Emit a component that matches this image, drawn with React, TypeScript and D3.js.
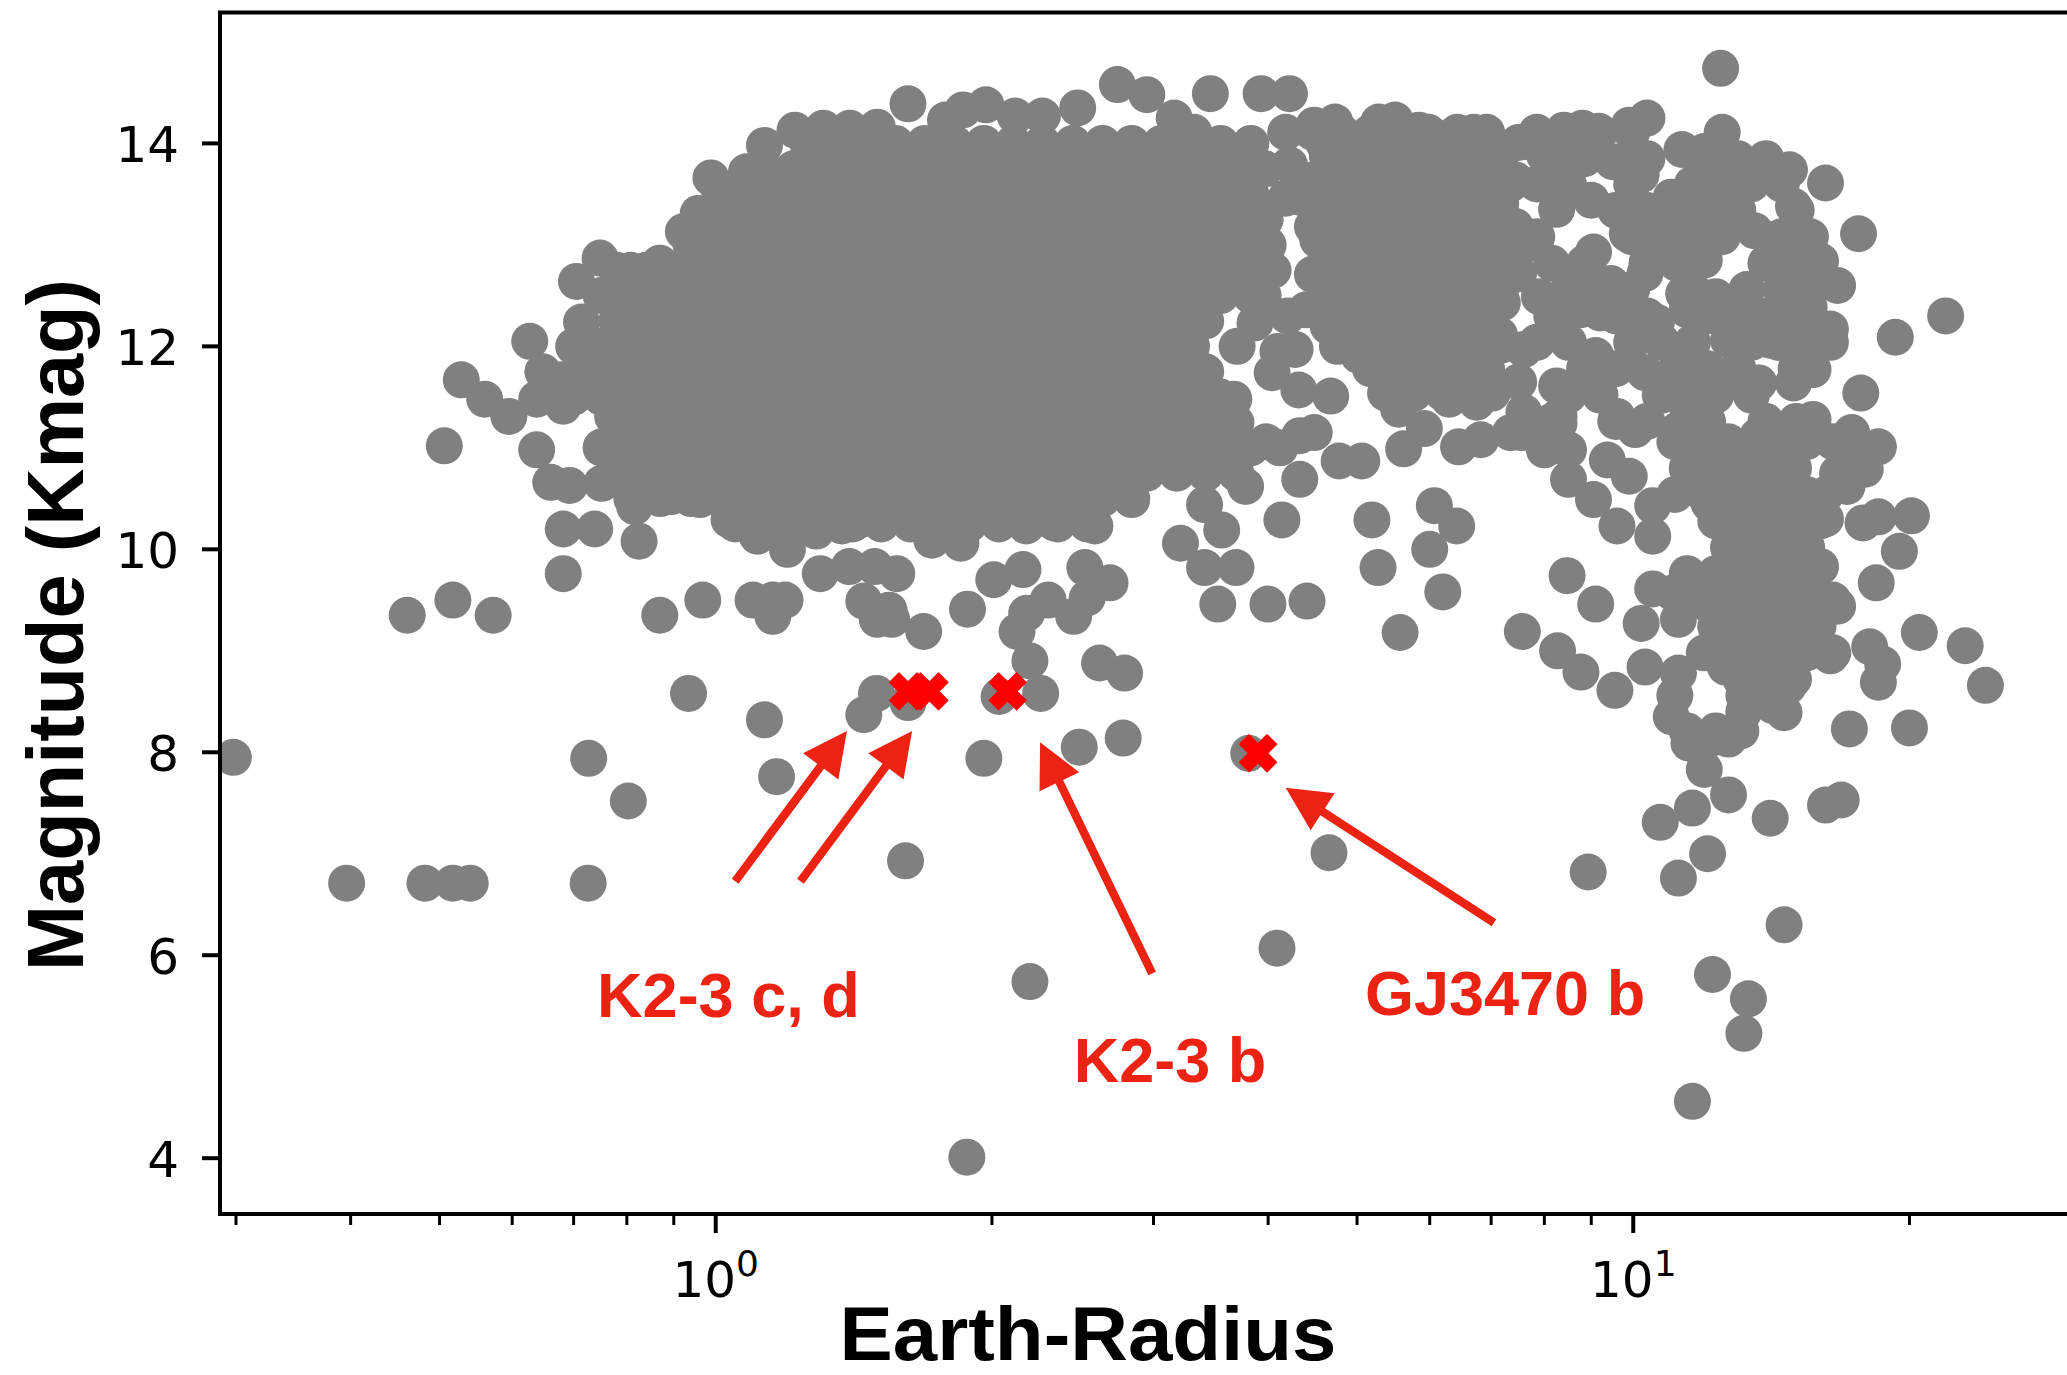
import React from "react";
import * as d3 from "d3";

// ---------------- DATA (Earth-radius, K magnitude) ----------------
const coreRows: { kmag: number; radii: number[] }[] = [
  { kmag: 14.0, radii: [1.26, 1.36, 1.46, 1.57, 1.69, 1.82, 1.96, 2.11, 2.27, 2.45, 2.64, 2.84, 3.06, 3.3, 3.55, 3.83] },
  { kmag: 13.75, radii: [1.13, 1.215, 1.31, 1.41, 1.515, 1.63, 1.755, 1.89, 2.035, 2.19, 2.36, 2.54, 2.74, 2.95, 3.18, 3.42, 3.69, 3.97] },
  { kmag: 13.5, radii: [1.01, 1.09, 1.17, 1.26, 1.36, 1.46, 1.57, 1.69, 1.82, 1.96, 2.11, 2.27, 2.45, 2.64, 2.84, 3.06, 3.3, 3.55, 3.83] },
  { kmag: 13.25, radii: [0.975, 1.05, 1.13, 1.215, 1.31, 1.41, 1.515, 1.63, 1.755, 1.89, 2.035, 2.19, 2.36, 2.54, 2.74, 2.95, 3.18, 3.42, 3.69, 3.97] },
  { kmag: 13.0, radii: [0.94, 1.01, 1.09, 1.17, 1.26, 1.36, 1.46, 1.57, 1.69, 1.82, 1.96, 2.11, 2.27, 2.45, 2.64, 2.84, 3.06, 3.3, 3.55, 3.83] },
  { kmag: 12.75, radii: [0.78, 0.84, 0.905, 0.975, 1.05, 1.13, 1.215, 1.31, 1.41, 1.515, 1.63, 1.755, 1.89, 2.035, 2.19, 2.36, 2.54, 2.74, 2.95, 3.18, 3.42, 3.69, 3.97] },
  { kmag: 12.5, radii: [0.75, 0.81, 0.87, 0.94, 1.01, 1.09, 1.17, 1.26, 1.36, 1.46, 1.57, 1.69, 1.82, 1.96, 2.11, 2.27, 2.45, 2.64, 2.84, 3.06, 3.3, 3.55, 3.83] },
  { kmag: 12.25, radii: [0.78, 0.84, 0.905, 0.975, 1.05, 1.13, 1.215, 1.31, 1.41, 1.515, 1.63, 1.755, 1.89, 2.035, 2.19, 2.36, 2.54, 2.74, 2.95, 3.18, 3.42] },
  { kmag: 12.0, radii: [0.7, 0.75, 0.81, 0.87, 0.94, 1.01, 1.09, 1.17, 1.26, 1.36, 1.46, 1.57, 1.69, 1.82, 1.96, 2.11, 2.27, 2.45, 2.64, 2.84, 3.06, 3.3] },
  { kmag: 11.75, radii: [0.725, 0.78, 0.84, 0.905, 0.975, 1.05, 1.13, 1.215, 1.31, 1.41, 1.515, 1.63, 1.755, 1.89, 2.035, 2.19, 2.36, 2.54, 2.74, 2.95, 3.18, 3.42] },
  { kmag: 11.5, radii: [0.7, 0.75, 0.81, 0.87, 0.94, 1.01, 1.09, 1.17, 1.26, 1.36, 1.46, 1.57, 1.69, 1.82, 1.96, 2.11, 2.27, 2.45, 2.64, 2.84, 3.06, 3.3, 3.55] },
  { kmag: 11.25, radii: [0.78, 0.84, 0.905, 0.975, 1.05, 1.13, 1.215, 1.31, 1.41, 1.515, 1.63, 1.755, 1.89, 2.035, 2.19, 2.36, 2.54, 2.74, 2.95, 3.18, 3.42, 3.69] },
  { kmag: 11.0, radii: [0.75, 0.81, 0.87, 0.94, 1.01, 1.09, 1.17, 1.26, 1.36, 1.46, 1.57, 1.69, 1.82, 1.96, 2.11, 2.27, 2.45, 2.64, 2.84, 3.06, 3.3, 3.55, 3.83, 4.12] },
  { kmag: 10.75, radii: [0.78, 0.84, 0.905, 0.975, 1.05, 1.13, 1.215, 1.31, 1.41, 1.515, 1.63, 1.755, 1.89, 2.035, 2.19, 2.36, 2.54, 2.74, 2.95, 3.18, 3.42, 3.69] },
  { kmag: 10.5, radii: [0.81, 0.87, 0.94, 1.01, 1.09, 1.17, 1.26, 1.36, 1.46, 1.57, 1.69, 1.82, 1.96, 2.11, 2.27, 2.45, 2.64, 2.84] },
  { kmag: 10.25, radii: [1.05, 1.13, 1.215, 1.31, 1.41, 1.515, 1.63, 1.755, 1.89, 2.035, 2.19, 2.36, 2.54] },
];

const coreEdge: [number, number][] = [
  [1.62, 14.39], [1.22, 14.13], [1.31, 14.15], [1.4, 14.15], [1.5, 14.16], [1.78, 14.23], [0.988, 13.66], [1.08, 13.72],
  [1.13, 13.98], [0.957, 13.31], [0.922, 13.13], [0.748, 12.87], [0.705, 12.64], [0.869, 12.82], [0.808, 12.75], [0.944, 12.75],
  [0.714, 12.24], [0.714, 12.05], [0.737, 11.74], [0.772, 11.31], [0.997, 11.34], [0.751, 10.65], [0.751, 11.01], [0.816, 10.42],
  [0.894, 10.52], [0.961, 10.49], [1.034, 10.29], [1.11, 10.13], [1.197, 10.0], [1.287, 10.18], [1.372, 10.23], [1.436, 10.29],
  [1.6, 10.39], [1.72, 10.09], [1.69, 10.85],
  [1.86, 14.33], [1.97, 14.38], [2.12, 14.27], [2.27, 14.27], [2.48, 14.35], [2.74, 14.58], [2.95, 14.48], [3.16, 14.25],
  [3.46, 14.49], [3.93, 14.49], [4.22, 14.49], [3.32, 14.11], [4.18, 14.11], [4.22, 13.79], [4.18, 13.46], [4.0, 13.0],
  [3.87, 12.23], [3.7, 12.0], [4.04, 11.74], [4.32, 11.57], [3.67, 11.48], [3.98, 11.06], [4.33, 11.12], [4.49, 11.15],
  [4.78, 10.87], [5.06, 10.87], [5.62, 10.99], [4.33, 10.69], [3.78, 10.62], [4.14, 10.29], [3.41, 10.44], [3.56, 10.19],
  [3.21, 10.06], [2.84, 10.49], [2.59, 10.23], [2.34, 10.26], [2.18, 10.23], [2.03, 10.39], [1.85, 10.06], [1.8, 10.19],
  [3.95, 12.5], [4.2, 12.3], [4.1, 11.95], [4.05, 12.75],
  [4.33, 13.47], [4.4, 12.36], [4.28, 11.97],
];

const leftWing: [number, number][] = [
  [0.506, 11.02], [0.528, 11.67], [0.56, 11.48], [0.595, 11.31], [0.627, 12.05], [0.648, 11.75], [0.679, 11.67], [0.638, 11.48],
  [0.682, 11.41], [0.638, 10.98], [0.661, 10.66], [0.693, 10.63], [0.682, 10.2], [0.738, 10.2], [0.825, 10.08], [0.682, 9.76],
];

const sparseLeft: [number, number][] = [
  [0.298, 7.95], [0.396, 6.71], [0.482, 6.71], [0.517, 6.71], [0.54, 6.71], [0.726, 6.71], [0.727, 7.94], [0.803, 7.52],
  [0.461, 9.35], [0.517, 9.5], [0.572, 9.35], [0.869, 9.35], [0.968, 9.5], [0.934, 8.58], [1.13, 8.32], [1.165, 7.76],
];

const sparseMiddle: [number, number][] = [
  [1.098, 9.5], [1.154, 9.5], [1.154, 9.34], [1.19, 9.5], [1.3, 9.76], [1.398, 9.83], [1.49, 9.83], [1.575, 9.76],
  [1.45, 9.49], [1.545, 9.4], [1.5, 9.31], [1.555, 9.31], [1.685, 9.19], [1.45, 8.37], [1.497, 8.58], [1.62, 8.49],
  [1.61, 6.93], [1.878, 4.01], [1.96, 7.94], [2.036, 8.55], [2.2, 5.74], [2.26, 8.58], [2.49, 8.05], [2.78, 8.14],
  [2.62, 8.88], [2.79, 8.78], [2.2, 8.9], [2.13, 9.19], [2.182, 9.37], [2.303, 9.5], [2.455, 9.34], [2.54, 9.52],
  [2.69, 9.67], [2.525, 9.82], [2.009, 9.7], [2.162, 9.8], [1.881, 9.41],
  [3.41, 9.82], [3.69, 9.82], [3.525, 9.46], [3.998, 9.46], [4.41, 9.49], [3.81, 7.99], [4.09, 6.07], [4.66, 7.01],
  [5.19, 10.29], [5.27, 9.82], [5.57, 9.18], [6.07, 10.43], [6.42, 10.23], [6.0, 10.0], [6.2, 9.58], [7.57, 9.19],
  [8.27, 9.0], [8.77, 8.79], [8.47, 9.74], [9.1, 9.46], [9.55, 8.61], [8.93, 6.82],
];

const sparseRight: [number, number][] = [
  [10.7, 7.31], [11.2, 6.76], [11.6, 4.56], [11.6, 7.45], [12.7, 7.58], [12.2, 5.81], [12.05, 7.0], [13.2, 5.23],
  [13.35, 5.57], [14.1, 7.35], [14.6, 6.3], [16.2, 7.48], [16.85, 7.53], [17.2, 8.23], [20.0, 8.24], [20.5, 9.18],
  [23.0, 9.05], [24.2, 8.66],
];

const midBand: [number, number][] = [
  [4.49, 14.18], [4.73, 14.21], [5.28, 14.21], [5.5, 14.23], [5.84, 14.13], [6.45, 13.91], [7.07, 13.91], [6.95, 13.2],
  [6.35, 13.24], [5.73, 12.84], [6.4, 12.79], [6.85, 12.79], [7.5, 12.72], [5.14, 12.59], [5.96, 12.56], [6.23, 12.38],
  [6.95, 12.49], [4.67, 12.61], [4.53, 13.05], [5.1, 13.12], [4.65, 12.2], [4.76, 12.0], [5.38, 11.77], [6.08, 11.93],
  [7.15, 12.11], [6.82, 11.77], [6.3, 11.48], [7.02, 11.54], [4.68, 11.51], [6.45, 11.01], [6.82, 11.08], [7.35, 11.15],
  [4.6, 14.0], [5.02, 14.01], [6.13, 14.05], [6.7, 14.11], [7.5, 14.01], [4.68, 13.66], [5.1, 13.72], [6.0, 13.72],
  [6.65, 13.66], [7.35, 13.6], [4.54, 13.34], [4.94, 13.34], [6.04, 13.46], [6.75, 13.34], [7.5, 13.08], [4.61, 12.82],
  [5.0, 12.88], [6.13, 13.01], [6.97, 12.88], [5.2, 12.43], [5.72, 12.3], [6.5, 12.17], [7.2, 12.43], [5.02, 11.91],
  [5.72, 11.78], [6.3, 11.84], [7.5, 11.65], [5.55, 11.38], [6.75, 11.45], [5.92, 11.19],
];

const midFill: { kmag: number; radii: number[] }[] = [
  { kmag: 14.11, radii: [4.47, 4.81, 5.17, 5.56, 5.98, 6.43, 6.92] },
  { kmag: 13.88, radii: [4.64, 4.99, 5.37, 5.77, 6.2, 6.67, 7.17] },
  { kmag: 13.64, radii: [4.47, 4.81, 5.17, 5.56, 5.98, 6.43, 6.92, 7.44] },
  { kmag: 13.41, radii: [4.64, 4.99, 5.37, 5.77, 6.2, 6.67, 7.17] },
  { kmag: 13.18, radii: [4.47, 4.81, 5.17, 5.56, 5.98, 6.43, 6.92, 7.44] },
  { kmag: 12.95, radii: [4.64, 4.99, 5.37, 5.77, 6.2, 6.67, 7.17] },
  { kmag: 12.71, radii: [4.47, 4.81, 5.17, 5.56, 5.98, 6.43, 6.92, 7.44] },
  { kmag: 12.48, radii: [4.64, 4.99, 5.37, 5.77, 6.2, 6.67, 7.17] },
  { kmag: 12.25, radii: [4.81, 5.17, 5.56, 5.98, 6.43, 6.92] },
  { kmag: 12.01, radii: [4.99, 5.37, 5.77, 6.2, 6.67, 7.17] },
  { kmag: 11.78, radii: [5.17, 5.56, 5.98, 6.43, 6.92] },
  { kmag: 11.54, radii: [5.37, 5.77, 6.2, 6.67] },
];

const rightUpper: [number, number][] = [
  [12.45, 14.74], [8.4, 14.13], [8.8, 14.15], [9.17, 14.12], [9.9, 14.18], [10.35, 14.25], [8.0, 13.89], [9.5, 13.82],
  [10.05, 13.9], [10.2, 13.69], [11.95, 13.92], [12.45, 13.98], [13.6, 13.78], [14.8, 13.74], [16.2, 13.61], [14.95, 13.38],
  [11.45, 13.48], [12.7, 13.38], [8.25, 13.35], [9.0, 13.44], [7.8, 13.02], [9.05, 12.93], [10.4, 13.31], [9.85, 13.11],
  [11.95, 12.85], [14.1, 13.05], [16.0, 12.84], [16.7, 12.6], [14.6, 12.59], [13.3, 12.56], [11.35, 12.52], [10.3, 12.72],
  [9.45, 12.62], [7.9, 12.49], [8.75, 12.36], [9.2, 12.33], [10.6, 12.24], [11.45, 12.36], [13.05, 12.3], [15.55, 12.39],
  [16.4, 12.17], [16.4, 12.04], [14.1, 12.06], [12.7, 12.06], [11.6, 12.04], [7.6, 11.97], [15.7, 11.77], [9.9, 11.83],
  [10.3, 11.74], [12.95, 11.67], [13.7, 11.64], [8.25, 11.61], [8.3, 11.31], [9.6, 11.31], [11.45, 11.41], [15.7, 11.28],
  [7.6, 11.35], [7.75, 14.01], [11.0, 13.47], [13.55, 13.14], [12.3, 13.08], [11.1, 12.95], [12.3, 12.49], [14.4, 12.04],
  [14.95, 11.64], [12.3, 11.52], [10.7, 11.52], [9.1, 11.91], [8.5, 12.04], [11.3, 13.94], [11.9, 13.75],
  [17.6, 13.11], [19.3, 12.09], [21.9, 12.3], [17.7, 11.54], [18.5, 11.01], [17.6, 11.0], [17.3, 11.15],
];

const rightFill: { kmag: number; radii: number[] }[] = [
  { kmag: 14.11, radii: [7.85, 8.5, 9.2, 9.96, 12.5] },
  { kmag: 13.85, radii: [8.15, 8.85, 10.35, 12.05, 13.0, 13.95] },
  { kmag: 13.6, radii: [7.85, 8.5, 9.96, 11.6, 12.5, 13.45, 14.5] },
  { kmag: 13.34, radii: [9.57, 10.35, 11.15, 12.05, 13.0, 15.05] },
  { kmag: 13.08, radii: [7.85, 9.96, 10.75, 11.6, 12.5, 14.5, 15.6] },
  { kmag: 12.82, radii: [8.15, 8.85, 10.35, 11.15, 13.95, 15.05] },
  { kmag: 12.56, radii: [8.5, 9.2, 9.96, 11.6, 14.5, 15.6] },
  { kmag: 12.3, radii: [8.15, 9.57, 10.35, 12.05, 13.0, 13.95, 15.05] },
  { kmag: 12.04, radii: [7.85, 9.96, 10.75, 13.45, 14.5, 15.6] },
  { kmag: 11.78, radii: [8.85, 9.57, 11.15, 12.05, 13.0, 15.05] },
  { kmag: 11.52, radii: [8.5, 9.2, 10.75, 11.6, 13.45] },
  { kmag: 11.26, radii: [8.15, 9.57, 10.35, 12.05, 13.95, 15.05] },
];

const rightLower: [number, number][] = [
  [20.1, 10.33], [19.5, 9.98], [18.4, 9.67], [18.7, 8.87], [18.5, 8.69], [18.1, 9.04], [16.7, 9.44], [16.0, 9.83],
  [15.6, 9.7], [16.4, 8.95], [16.7, 10.75], [17.9, 10.79], [17.1, 10.62], [17.8, 10.26], [18.5, 10.32], [16.2, 10.3],
  [14.6, 8.39], [14.75, 8.65], [13.7, 8.92], [13.2, 8.56], [13.2, 8.4], [12.5, 9.01], [12.6, 8.84], [11.5, 8.09],
  [12.1, 8.13], [12.7, 8.13], [11.95, 7.83], [11.0, 8.35], [11.1, 8.56], [11.2, 8.78], [10.3, 8.84], [10.2, 9.27],
  [11.2, 9.31], [12.1, 9.45], [10.5, 9.61], [11.05, 9.57], [12.75, 9.96], [13.65, 9.8], [13.2, 10.3], [11.5, 10.62],
  [12.1, 10.45], [13.65, 10.62], [14.85, 10.79], [9.6, 10.23], [10.5, 10.13], [10.5, 10.43], [9.05, 10.49], [8.5, 10.69],
  [9.9, 10.72], [9.37, 10.88], [8.0, 10.98], [8.5, 10.98], [7.55, 11.15], [8.3, 11.24], [10.05, 11.18], [11.2, 11.18],
  [12.45, 10.95], [13.65, 11.11], [15.4, 11.18],
  [11.1, 11.06], [11.95, 11.06], [12.7, 11.06], [13.55, 11.06], [14.45, 11.06], [15.45, 11.06], [16.5, 11.06],
  [11.45, 10.8], [12.3, 10.8], [13.1, 10.8], [14.0, 10.8], [14.95, 10.8],
  [11.1, 10.54], [11.95, 10.54], [12.7, 10.54], [13.55, 10.54], [14.45, 10.54], [15.45, 10.54], [16.2, 10.54],
  [12.3, 10.28], [13.1, 10.28], [14.0, 10.28], [14.95, 10.28], [16.0, 10.28],
  [12.7, 10.02], [13.55, 10.02], [14.45, 10.02], [15.45, 10.02],
  [11.45, 9.76], [12.3, 9.76], [13.1, 9.76], [14.0, 9.76], [14.95, 9.76],
  [11.95, 9.5], [12.7, 9.5], [13.55, 9.5], [14.45, 9.5], [15.45, 9.5], [16.5, 9.5],
  [12.3, 9.24], [13.1, 9.24], [14.0, 9.24], [14.95, 9.24], [15.9, 9.24],
  [11.95, 8.98], [12.7, 8.98], [13.55, 8.98], [14.45, 8.98], [15.45, 8.98], [16.5, 8.98],
  [13.1, 8.72], [14.0, 8.72], [14.95, 8.72], [13.3, 8.46], [14.2, 8.46], [11.45, 8.21], [12.3, 8.21], [13.1, 8.21],
];

const targetNames = ["K2-3 c", "K2-3 d", "K2-3 b", "GJ3470 b"];
const targetRadius = [1.62, 1.71, 2.08, 3.9];
const targetKmag = [8.6, 8.6, 8.6, 7.99];

// annotation: label text, label anchor (radius,kmag), arrows [tailR, tailK, tipR, tipK]
const labelTexts = ["K2-3 c, d", "K2-3 b", "GJ3470 b"];
const labelRadius = [0.7425, 2.456, 5.1];
const labelKmag = [5.39, 4.75, 5.41];
const arrows: [number, number, number, number][] = [
  [1.05, 6.73, 1.39, 8.21],
  [1.237, 6.73, 1.637, 8.21],
  [2.99, 5.82, 2.257, 8.1],
  [7.05, 6.32, 4.18, 7.65],
];

const yTicks = [4, 6, 8, 10, 12, 14];
const xMajor = [1, 10];
const xMajorExp = ["0", "1"];
const xMinor = [0.3, 0.4, 0.5, 0.6, 0.7, 0.8, 0.9, 2, 3, 4, 5, 6, 7, 8, 9, 20, 30];

// ---------------- LAYOUT ----------------
const W = 2067;
const H = 1375;
const L = 220, T = 12.5, R = 2085, B = 1214;

const xScale = d3.scaleLog().domain([0.2882, 31.07]).range([L, R]);
const yScale = d3.scaleLinear().domain([3.45, 15.29]).range([B, T]);

const GRAY = "#808080";
const RED = "#ff0000";
const ANN = "#ec2212";
const HELV = "'Liberation Sans', Arial, Helvetica, sans-serif";
const DEJAVU = "'DejaVu Sans', sans-serif";

const xMarker = (() => {
  const v = [[-1, -2], [0, -1], [1, -2], [2, -1], [1, 0], [2, 1], [1, 2], [0, 1], [-1, 2], [-2, 1], [-1, 0], [-2, -1]];
  const s = 9;
  return "M" + v.map(([a, b]) => `${a * s},${b * s}`).join("L") + "Z";
})();

function arrowPolygon(x0: number, y0: number, x1: number, y1: number) {
  const dx = x1 - x0, dy = y1 - y0;
  const len = Math.hypot(dx, dy);
  const ux = dx / len, uy = dy / len;
  const nx = -uy, ny = ux;
  const w = 4.2, hw = 22, hl = 44;
  const bx = x1 - ux * hl, by = y1 - uy * hl;
  const pts = [
    [x0 + nx * w, y0 + ny * w], [bx + nx * w, by + ny * w], [bx + nx * hw, by + ny * hw], [x1, y1],
    [bx - nx * hw, by - ny * hw], [bx - nx * w, by - ny * w], [x0 - nx * w, y0 - ny * w],
  ];
  return pts.map((p) => p.join(",")).join(" ");
}

const rowsToPairs = (rows: { kmag: number; radii: number[] }[]) =>
  rows.flatMap((row) => row.radii.map((r) => [r, row.kmag] as [number, number]));

export default function App() {
  const gray: [number, number][] = [
    ...rowsToPairs(coreRows), ...rowsToPairs(midFill), ...rowsToPairs(rightFill),
    ...coreEdge, ...leftWing, ...sparseLeft, ...sparseMiddle, ...sparseRight, ...midBand, ...rightUpper, ...rightLower,
  ];

  return (
    <svg width={W} height={H} style={{ position: "absolute", left: 0, top: 0, background: "#fff" }}>
      <defs>
        <clipPath id="plotclip">
          <rect x={L} y={T} width={R - L} height={B - T} />
        </clipPath>
      </defs>
      <rect x={0} y={0} width={W} height={H} fill="#fff" />
      <g clipPath="url(#plotclip)">
        {gray.map(([r, k], i) => (
          <circle key={i} cx={xScale(r)} cy={yScale(k)} r={18.5} fill={GRAY} />
        ))}
        {targetNames.map((n, i) => (
          <path key={n} d={xMarker} transform={`translate(${xScale(targetRadius[i])},${yScale(targetKmag[i])})`}
            fill={RED} stroke={RED} strokeWidth={2} strokeLinejoin="round" />
        ))}
      </g>
      {arrows.map(([r0, k0, r1, k1], i) => (
        <polygon key={i} points={arrowPolygon(xScale(r0), yScale(k0), xScale(r1), yScale(k1))} fill={ANN} />
      ))}
      {labelTexts.map((t, i) => (
        <text key={t} x={xScale(labelRadius[i])} y={yScale(labelKmag[i])} fill={ANN}
          fontFamily={HELV} fontWeight="bold" fontSize={63}>{t}</text>
      ))}
      {/* spines */}
      <line x1={L} y1={T} x2={L} y2={B + 2} stroke="#000" strokeWidth={4} />
      <line x1={L - 2} y1={B} x2={R} y2={B} stroke="#000" strokeWidth={4} />
      <line x1={L - 2} y1={T} x2={R} y2={T} stroke="#000" strokeWidth={4} />
      {/* y ticks */}
      {yTicks.map((t) => (
        <g key={t}>
          <line x1={L - 18} x2={L} y1={yScale(t)} y2={yScale(t)} stroke="#000" strokeWidth={4} />
          <text x={179} y={yScale(t) + 19} textAnchor="end" fontFamily={DEJAVU} fontSize={50} fill="#000">{t}</text>
        </g>
      ))}
      {/* x ticks */}
      {xMinor.map((t) => (
        <line key={t} x1={xScale(t)} x2={xScale(t)} y1={B} y2={B + 11} stroke="#000" strokeWidth={3} />
      ))}
      {xMajor.map((t, i) => (
        <g key={t}>
          <line x1={xScale(t)} x2={xScale(t)} y1={B} y2={B + 19} stroke="#000" strokeWidth={4} />
          <text x={xScale(t)} y={1297} textAnchor="middle" fontFamily={DEJAVU} fontSize={50} fill="#000">
            10<tspan fontSize={36} dy={-21}>{xMajorExp[i]}</tspan>
          </text>
        </g>
      ))}
      {/* axis labels */}
      <text x={1088} y={1360} textAnchor="middle" fontFamily={HELV} fontWeight="bold" fontSize={76}
        textLength={497} lengthAdjust="spacingAndGlyphs">Earth-Radius</text>
      <text transform="translate(83,625) rotate(-90)" textAnchor="middle" fontFamily={HELV} fontWeight="bold"
        fontSize={80} textLength={692} lengthAdjust="spacingAndGlyphs">Magnitude (Kmag)</text>
    </svg>
  );
}
